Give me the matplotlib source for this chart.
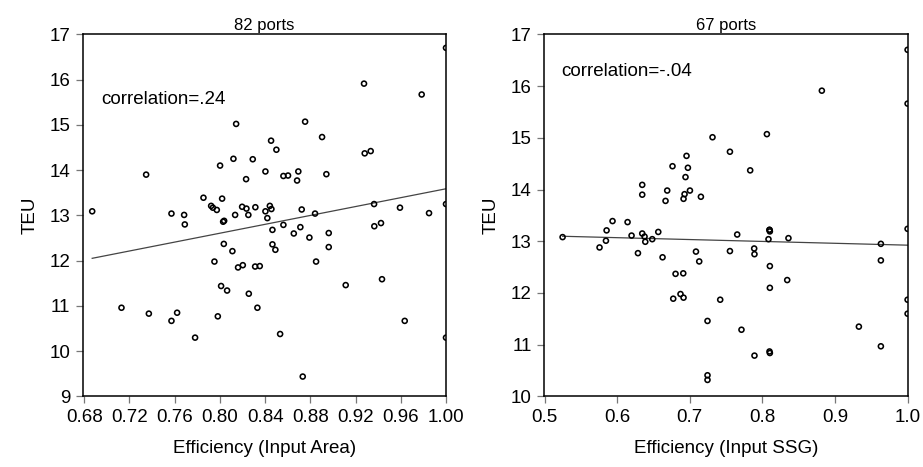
import numpy as np
import matplotlib
matplotlib.use("Agg")
import matplotlib.pyplot as plt

plt.rcParams['font.family'] = ['Liberation Sans', 'DejaVu Sans']

# ---- Left panel: 82 ports, Efficiency (Input Area) ----
area_eff = [0.8144, 0.812, 0.8002, 0.8232, 0.7348, 0.7855, 0.802, 0.7923, 0.7938, 0.7973,
            0.8197, 0.8235, 0.6871, 0.7572, 0.7684, 0.8135, 0.9275, 0.9785, 0.8754, 0.8453,
            0.8904, 0.85, 0.8291, 0.9281, 0.9334, 0.8403, 0.8694, 0.8562, 0.8603, 0.8683,
            0.8942, 0.8314, 0.8442, 0.8456, 0.8403, 0.8724, 0.8842, 0.9364, 0.9593, 0.8252,
            0.769, 0.8029, 0.8038, 0.8035, 0.8111, 0.7952, 0.8161, 0.8203, 0.8011, 0.8064,
            0.8256, 0.713, 0.7372, 0.7572, 0.7622, 0.7982, 0.7781, 0.842, 0.8465, 0.8562,
            0.8712, 0.8654, 0.8792, 0.8963, 0.8963, 0.8465, 0.8491, 0.9366, 0.9425, 0.8851,
            0.8312, 0.8353, 0.9113, 0.9434, 0.8332, 0.9635, 0.8533, 0.8733,
            1.0, 0.985, 1.0, 1.0]
area_teu = [15.02, 14.25, 14.10, 13.80, 13.90, 13.39, 13.37, 13.21, 13.17, 13.12,
            13.19, 13.15, 13.09, 13.04, 13.01, 13.01, 15.91, 15.67, 15.07, 14.65,
            14.73, 14.45, 14.24, 14.37, 14.42, 13.97, 13.97, 13.87, 13.88, 13.77,
            13.91, 13.18, 13.21, 13.14, 13.09, 13.13, 13.04, 13.25, 13.17, 13.01,
            12.80, 12.86, 12.88, 12.37, 12.21, 11.98, 11.85, 11.90, 11.44, 11.34,
            11.27, 10.96, 10.83, 10.67, 10.85, 10.77, 10.30, 12.94, 12.68, 12.79,
            12.74, 12.60, 12.51, 12.61, 12.30, 12.36, 12.24, 12.76, 12.83, 11.98,
            11.87, 11.88, 11.46, 11.59, 10.96, 10.67, 10.38, 9.44,
            16.70, 13.05, 13.25, 10.30]

# ---- Right panel: 67 ports, Efficiency (Input SSG) ----
ssg_eff = [0.7313, 0.7553, 0.6955, 0.6762, 0.6974, 0.6941, 0.6345, 0.6345, 0.6689, 0.7002,
           0.6928, 0.6914, 0.6666, 0.7153, 1.0, 0.8819, 1.0, 0.8062, 0.7832, 0.5936,
           0.6143, 0.5854, 0.5248, 0.6198, 0.6345, 0.6377, 0.6566, 0.5845, 0.6387, 0.6483,
           0.5757, 0.6286, 0.6625, 0.7085, 0.7553, 0.7130, 0.6804, 0.6910, 0.6772, 0.6872,
           0.6914, 0.7419, 0.7244, 0.7244, 0.7244, 0.7653, 0.8098, 0.8103, 0.8084, 0.8359,
           0.7887, 0.7891, 0.8103, 0.8342, 0.8103, 1.0, 0.9632, 0.9632, 1.0, 1.0,
           0.9329, 0.7712, 0.9632, 0.7891, 0.8098, 0.8103, 0.8098]
ssg_teu = [15.01, 14.73, 14.65, 14.45, 14.42, 14.24, 14.09, 13.90, 13.98, 13.98,
           13.91, 13.82, 13.78, 13.86, 16.70, 15.91, 15.66, 15.07, 14.37, 13.39,
           13.37, 13.21, 13.08, 13.11, 13.15, 13.09, 13.18, 13.01, 12.99, 13.04,
           12.88, 12.77, 12.69, 12.80, 12.81, 12.61, 12.37, 12.38, 11.89, 11.98,
           11.91, 11.87, 11.46, 10.41, 10.32, 13.13, 13.22, 13.19, 13.04, 13.06,
           12.86, 12.75, 12.52, 12.25, 12.10, 13.24, 12.95, 12.63, 11.87, 11.60,
           11.35, 11.29, 10.97, 10.79, 10.87, 10.84, 13.22]

left_ticks = [0.68, 0.72, 0.76, 0.80, 0.84, 0.88, 0.92, 0.96, 1.00]
left_ticklabels = ["0.68", "0.72", "0.76", "0.80", "0.84", "0.88", "0.92", "0.96", "1.00"]
right_ticks = [0.5, 0.6, 0.7, 0.8, 0.9, 1.0]
right_ticklabels = ["0.5", "0.6", "0.7", "0.8", "0.9", "1.0"]

FS = 13.5
fig = plt.figure(figsize=(9.23, 4.67), dpi=100)
ax1 = fig.add_axes([0.0896, 0.151, 0.3936, 0.7756])
ax2 = fig.add_axes([0.5897, 0.151, 0.3936, 0.7756])


def panel(ax, x, y, xlim, ylim, xticks, xticklabels, yticks, title, xlabel, corr_text, tx, ty):
    x = np.asarray(x)
    y = np.asarray(y)
    ax.scatter(x, y, s=13, facecolors='none', edgecolors='black', linewidths=1.15, zorder=3)
    slope, inter = np.polyfit(x, y, 1)
    xs = np.array([x.min(), x.max()])
    ax.plot(xs, inter + slope * xs, color='#444444', lw=0.9, zorder=2)
    ax.set_xlim(*xlim)
    ax.set_ylim(*ylim)
    ax.set_xticks(xticks)
    ax.set_xticklabels(xticklabels)
    ax.set_yticks(yticks)
    ax.tick_params(direction='out', length=5, width=0.9, color='#777777', labelsize=FS, pad=4)
    for s in ax.spines.values():
        s.set_linewidth(1.1)
        s.set_color('black')
    ax.set_title(title, fontsize=FS - 1.5, pad=3)
    ax.set_xlabel(xlabel, fontsize=FS, labelpad=10)
    ax.set_ylabel("TEU", fontsize=FS, labelpad=8)
    ax.text(tx, ty, corr_text, transform=ax.transAxes, fontsize=FS, ha='left', va='center')


panel(ax1, area_eff, area_teu, (0.6787, 1.0), (9, 17), left_ticks, left_ticklabels,
      list(range(9, 18)), "82 ports", "Efficiency (Input Area)", "correlation=.24", 0.050, 0.819)
panel(ax2, ssg_eff, ssg_teu, (0.4996, 1.0), (10, 17), right_ticks, right_ticklabels,
      list(range(10, 18)), "67 ports", "Efficiency (Input SSG)", "correlation=-.04", 0.048, 0.897)

fig.savefig("out.png", dpi=100)
